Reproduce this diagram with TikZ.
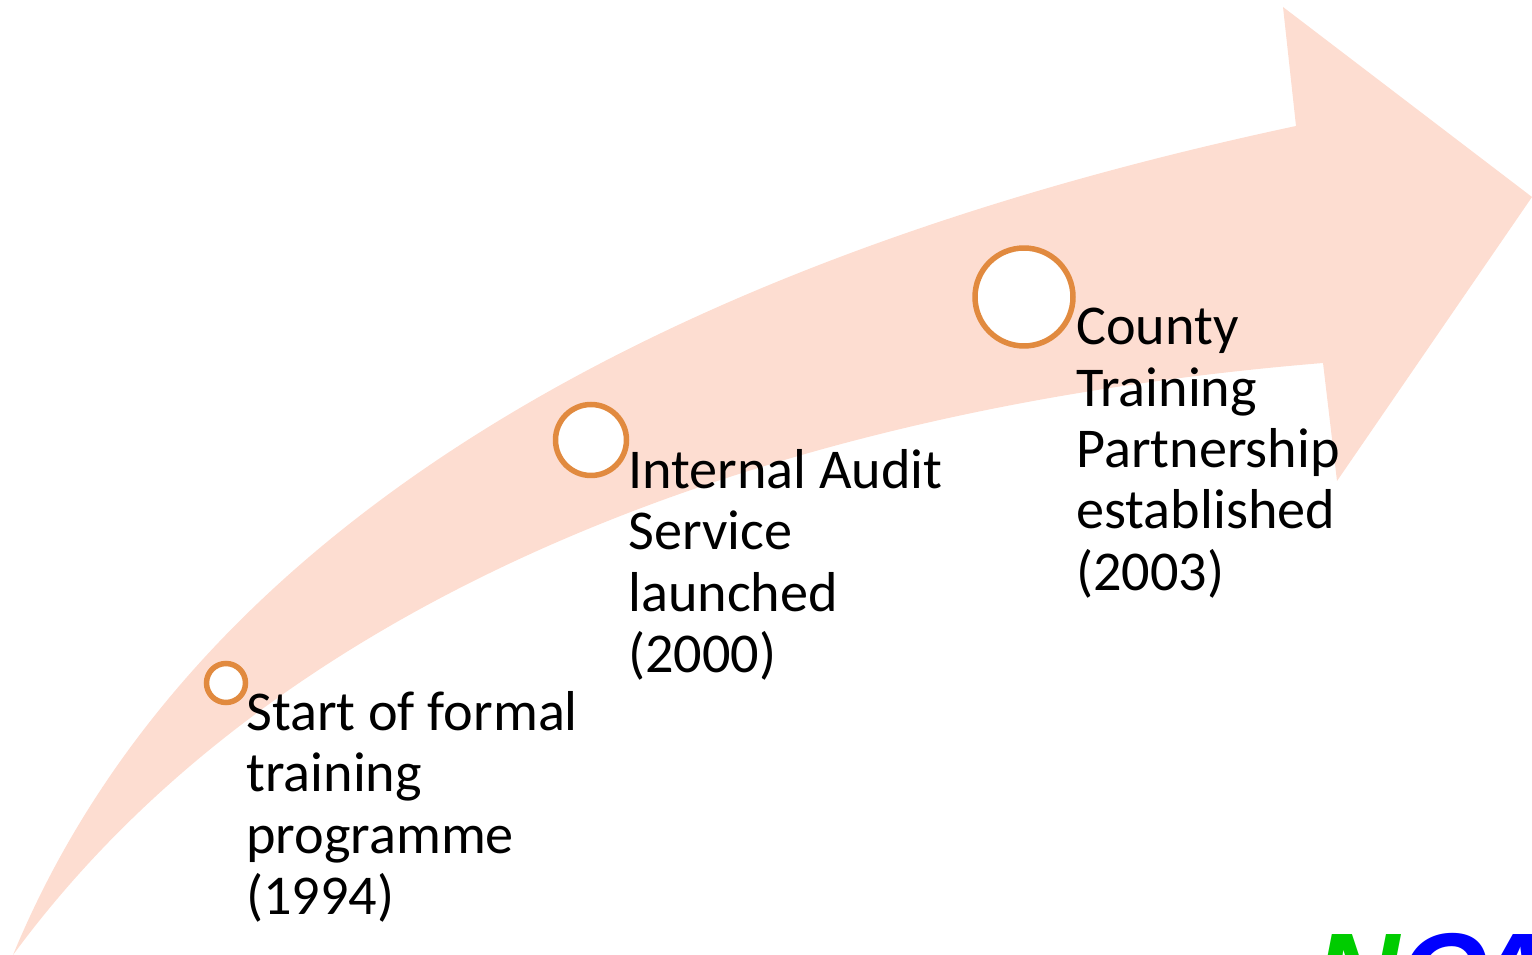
\documentclass[tikz,border=0pt]{standalone}
\usepackage{fontspec}
\setmainfont{Carlito}
\newfontfamily\logofont{Liberation Sans}
\usepackage{xcolor}
\usetikzlibrary{positioning}
\definecolor{arrowfill}{HTML}{FDDDD1}
\definecolor{ringline}{HTML}{E18A3F}
\definecolor{logogreen}{HTML}{00CC00}
\definecolor{logoblue}{HTML}{0000FF}
\tikzstyle{ring}      = [circle, draw=ringline, line width=0.11cm, fill=white, inner sep=0pt]
\tikzstyle{milestone} = [anchor=north west, inner sep=0pt, align=left, text=black, font=\fontsize{32}{34.9}\selectfont]
\tikzstyle{logo}      = [anchor=base west, inner sep=0pt, font=\logofont\bfseries\itshape\fontsize{67}{67}\selectfont]

\begin{document}
\begin{tikzpicture}[x=0.02cm,y=-0.02cm]
		\useasboundingbox (0,0) rectangle (1532,955);

		% big curved arrow
		\fill[arrowfill] (13,955) .. controls (180,550) and (620,270) .. (1296,126)
			-- (1283,7) -- (1532,197) -- (1337,481) -- (1323,363)
			.. controls (750,410) and (270,605) .. (13,955) -- cycle;

		\node[ring, minimum size=0.78cm] (start)   at (226,683)  {};
		\node[ring, minimum size=1.42cm] (audit)   at (591,440)  {};
		\node[ring, minimum size=1.96cm] (county)  at (1024,297) {};

		\node[milestone] (startlabel)  at (246,691)  {Start of formal\\training\\programme\\(1994)};
		\node[milestone] (auditlabel)  at (628,449)  {Internal Audit\\Service\\launched\\(2000)};
		\node[milestone] (countylabel) at (1076,308) {County\\Training\\Partnership\\established\\(2003)};

		% logo, cut off by the page
		\node[logo, text=logogreen] (logon) at (1314,1015) {N};
		\node[logo, text=logoblue]  (logoc) at (1399,1015) {C};
		\node[logo, text=logoblue]  (logoa) at (1470,1015) {A};
	\end{tikzpicture}
\end{document}
